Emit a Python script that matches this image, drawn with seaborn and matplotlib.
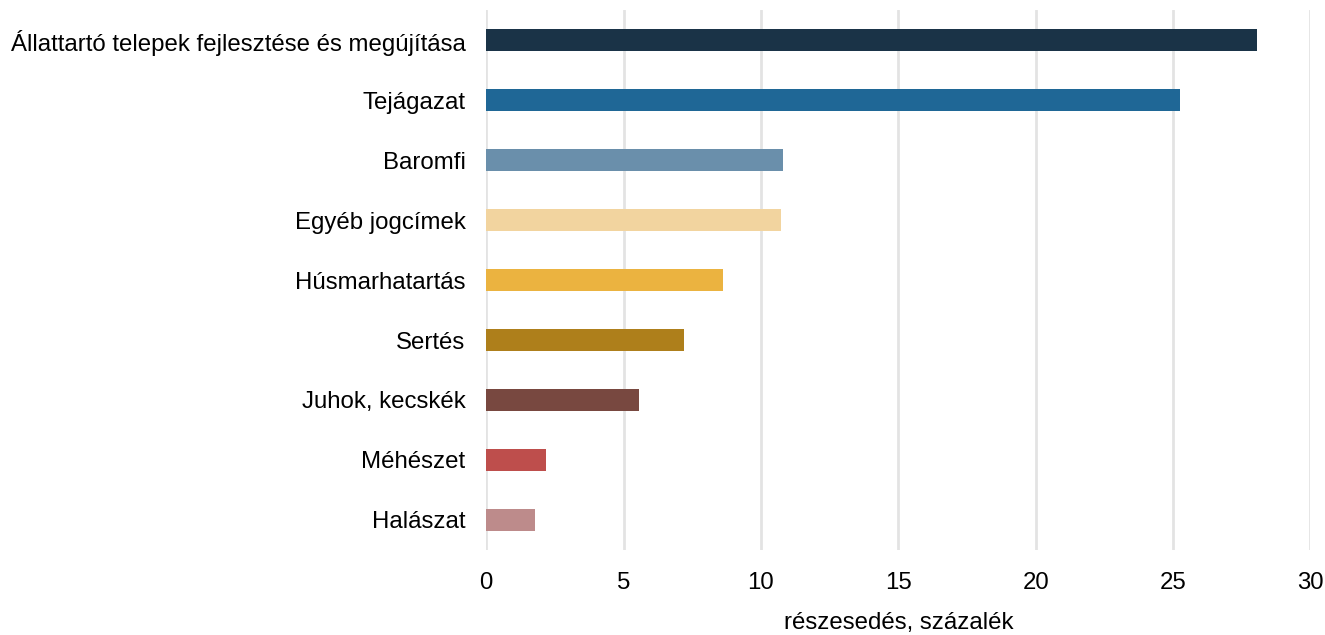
import matplotlib
matplotlib.use("Agg")
import matplotlib.pyplot as plt
import seaborn as sns
import pandas as pd

categories = ['Állattartó telepek fejlesztése és megújítása', 'Tejágazat', 'Baromfi',
              'Egyéb jogcímek', 'Húsmarhatartás', 'Sertés', 'Juhok, kecskék',
              'Méhészet', 'Halászat']
values = [28.06, 25.26, 10.79, 10.72, 8.61, 7.19, 5.55, 2.16, 1.76]
colors = ['#1a3347', '#1f6796', '#6a8fab', '#f2d49f', '#ebb340',
          '#ae7f1b', '#784840', '#be4e4c', '#bd8b8b']
x_ticks = [0, 5, 10, 15, 20, 25, 30]

sns.set_style("white")
plt.rcParams['font.family'] = ['Liberation Sans', 'DejaVu Sans']

df = pd.DataFrame({'kategoria': categories, 'ertek': values})

fig, ax = plt.subplots(figsize=(13.25, 6.35), dpi=100)
fig.subplots_adjust(left=0.367, right=0.989, top=0.984, bottom=0.134)

sns.barplot(data=df, x='ertek', y='kategoria', hue='kategoria', palette=colors,
            legend=False, width=0.37, saturation=1, linewidth=0, ax=ax, zorder=3)

ax.set_xlim(0, 30)
ax.set_xticks(x_ticks)
ax.xaxis.grid(True, color='#e3e3e3', linewidth=2, zorder=0)
ax.yaxis.grid(False)
ax.set_axisbelow(True)
sns.despine(ax=ax, left=True, bottom=True)
ax.tick_params(axis='both', length=0, labelsize=17.3, colors='black')
ax.tick_params(axis='y', pad=15)
ax.tick_params(axis='x', pad=16)
ax.set_ylabel('')
ax.set_xlabel('részesedés, százalék', fontsize=17.3, color='black', labelpad=13)

plt.savefig('out.png', dpi=100)
